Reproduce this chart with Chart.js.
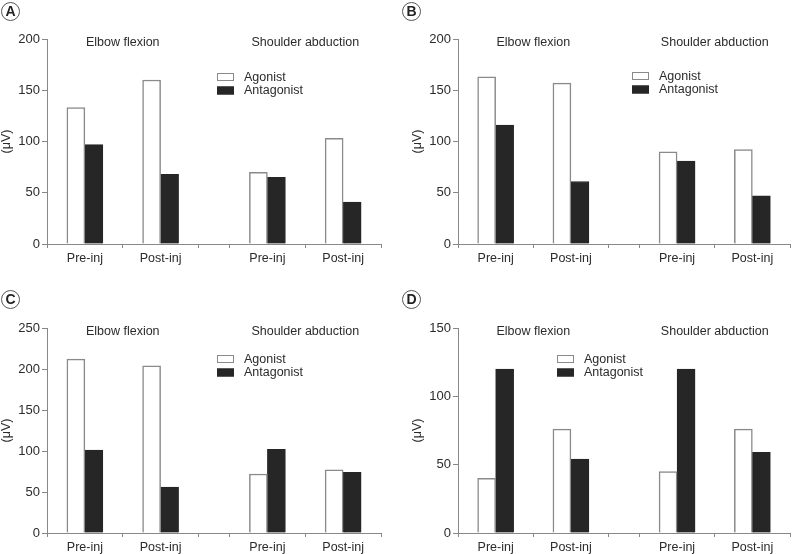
<!DOCTYPE html>
<html><head><meta charset="utf-8">
<script src="https://cdn.jsdelivr.net/npm/chart.js@4/dist/chart.umd.min.js"></script>
<style>
html,body{margin:0;padding:0;background:#fff;}
body{overflow:hidden;width:793px;height:554px;position:relative;font-family:"Liberation Sans",Arial,sans-serif;}
canvas{position:absolute;}
.lbl{position:absolute;width:17px;height:17px;border:1px solid #555;border-radius:50%;font-weight:bold;font-size:14px;line-height:17px;text-align:center;color:#222;box-sizing:content-box;}
</style></head><body>
<canvas id="cA" width="396" height="274" style="left:0;top:0"></canvas>
<canvas id="cB" width="382" height="274" style="left:411px;top:0"></canvas>
<canvas id="cC" width="396" height="274" style="left:0;top:289px"></canvas>
<canvas id="cD" width="382" height="274" style="left:411px;top:289px"></canvas>
<script>
// ---- data ----
const groups = ['Elbow flexion', 'Shoulder abduction'];
const conditions = ['Pre-inj', 'Post-inj'];
const seriesNames = ['Agonist', 'Antagonist'];
const panelLetters = ['A', 'B', 'C', 'D'];
const agonistA = [133, 160, 70, 103];
const antagonistA = [97, 68, 65, 41];
const agonistB = [163, 157, 90, 92];
const antagonistB = [116, 61, 81, 47];
const agonistC = [212, 204, 72, 77];
const antagonistC = [101, 56, 102, 74];
const agonistD = [40, 76, 45, 76];
const antagonistD = [120, 54, 120, 59];
const yMaxes = [200, 200, 250, 150];
const yStep = 50;

// ---- layout / style ----
const GAP = 0.41; // gap between the two groups, in slot widths
const FONT = '"Liberation Sans", Arial, sans-serif';
const TXT = '#2b2b2b';
const AXIS = '#888';
const FS = 12.5;
Chart.defaults.font.family = FONT;
Chart.defaults.color = TXT;

// x positions built from the categories
const groupStart = groups.map((g, gi) => gi * (conditions.length + GAP));
const xCenters = [];
const tickVals = [];
const tickLabels = [];
groups.forEach((g, gi) => {
  const s = groupStart[gi];
  conditions.forEach((c, ci) => {
    tickVals.push(s + ci); tickLabels.push('');
    tickVals.push(s + ci + 0.5); tickLabels.push(c);
    xCenters.push(s + ci + 0.5);
  });
  tickVals.push(s + conditions.length); tickLabels.push('');
});
const xMax = groupStart[groups.length - 1] + conditions.length;

const panels = [
  {id: 'cA', ag: agonistA, an: antagonistA, ymax: yMaxes[0], leg: {dx: 170, dy: 34}, letter: panelLetters[0], pos: [1, 2]},
  {id: 'cB', ag: agonistB, an: antagonistB, ymax: yMaxes[1], leg: {dx: 174, dy: 33}, letter: panelLetters[1], pos: [402, 2]},
  {id: 'cC', ag: agonistC, an: antagonistC, ymax: yMaxes[2], leg: {dx: 170, dy: 27}, letter: panelLetters[2], pos: [1, 290]},
  {id: 'cD', ag: agonistD, an: antagonistD, ymax: yMaxes[3], leg: {dx: 99, dy: 27}, letter: panelLetters[3], pos: [402, 290]}
];

const groupTitlePlugin = {
  id: 'groupTitles',
  afterDraw(chart) {
    const ctx = chart.ctx, xs = chart.scales.x, top = chart.chartArea.top;
    ctx.save();
    ctx.font = FS + 'px ' + FONT;
    ctx.fillStyle = TXT;
    ctx.textAlign = 'center';
    ctx.textBaseline = 'middle';
    groups.forEach((g, gi) => {
      const mid = groupStart[gi] + conditions.length / 2;
      ctx.fillText(g, xs.getPixelForValue(mid), top + 4);
    });
    ctx.restore();
  }
};

const customLegendPlugin = {
  id: 'customLegend',
  afterDraw(chart, args, opts) {
    const ctx = chart.ctx, ca = chart.chartArea;
    const x0 = ca.left + opts.dx, y0 = ca.top + opts.dy;
    ctx.save();
    ctx.font = FS + 'px ' + FONT;
    ctx.textBaseline = 'middle';
    ctx.textAlign = 'left';
    chart.data.datasets.forEach((ds, i) => {
      const y = y0 + i * 13.5;
      ctx.fillStyle = ds.backgroundColor;
      ctx.fillRect(x0, y, 17, 8);
      ctx.strokeStyle = ds.borderColor;
      ctx.lineWidth = 1;
      ctx.strokeRect(x0 + 0.5, y + 0.5, 16, 7);
      ctx.fillStyle = TXT;
      ctx.fillText(ds.label, x0 + 27, y + 4.5);
    });
    ctx.restore();
  }
};

panels.forEach((p) => {
  const el = document.createElement('div');
  el.className = 'lbl';
  el.style.left = p.pos[0] + 'px';
  el.style.top = p.pos[1] + 'px';
  el.textContent = p.letter;
  document.body.appendChild(el);

  const canvas = document.getElementById(p.id);
  new Chart(canvas, {
    type: 'bar',
    data: {
      datasets: [
        {label: seriesNames[0], data: p.ag.map((v, i) => ({x: xCenters[i], y: v})),
         backgroundColor: '#ffffff', borderColor: '#8a8a8a', borderWidth: 1.5, barThickness: 18},
        {label: seriesNames[1], data: p.an.map((v, i) => ({x: xCenters[i], y: v})),
         backgroundColor: '#262626', borderColor: '#262626', borderWidth: 1, barThickness: 18}
      ]
    },
    options: {
      responsive: false,
      animation: false,
      layout: {padding: {top: 39, right: canvas.width === 396 ? 15 : 1, left: 0, bottom: 0}},
      plugins: {
        legend: {display: false},
        tooltip: {enabled: false},
        customLegend: p.leg
      },
      scales: {
        x: {
          type: 'linear',
          min: 0,
          max: xMax,
          offset: false,
          grid: {offset: false, drawOnChartArea: false, drawTicks: true, tickLength: 4,
                 tickColor: (c) => (tickLabels[c.index] ? 'rgba(0,0,0,0)' : AXIS)},
          border: {display: true, color: AXIS, width: 1},
          afterBuildTicks: (scale) => { scale.ticks = tickVals.map(v => ({value: v})); },
          afterFit: (scale) => { scale.height = 30; },
          ticks: {autoSkip: false, maxRotation: 0, padding: 3, color: TXT,
                  font: {size: FS}, callback: (v, i) => tickLabels[i]}
        },
        y: {
          min: 0,
          max: p.ymax,
          grid: {drawOnChartArea: false, drawTicks: true, tickLength: 5, tickColor: AXIS},
          border: {display: true, color: AXIS, width: 1},
          afterFit: (scale) => { scale.width = 47; },
          ticks: {stepSize: yStep, padding: 2, color: TXT, font: {size: 13}},
          title: {display: true, text: '(\u03bcV)', color: TXT, font: {size: FS}, padding: {top: -1, bottom: 0}}
        }
      }
    },
    plugins: [groupTitlePlugin, customLegendPlugin]
  });
});
</script>
</body></html>
